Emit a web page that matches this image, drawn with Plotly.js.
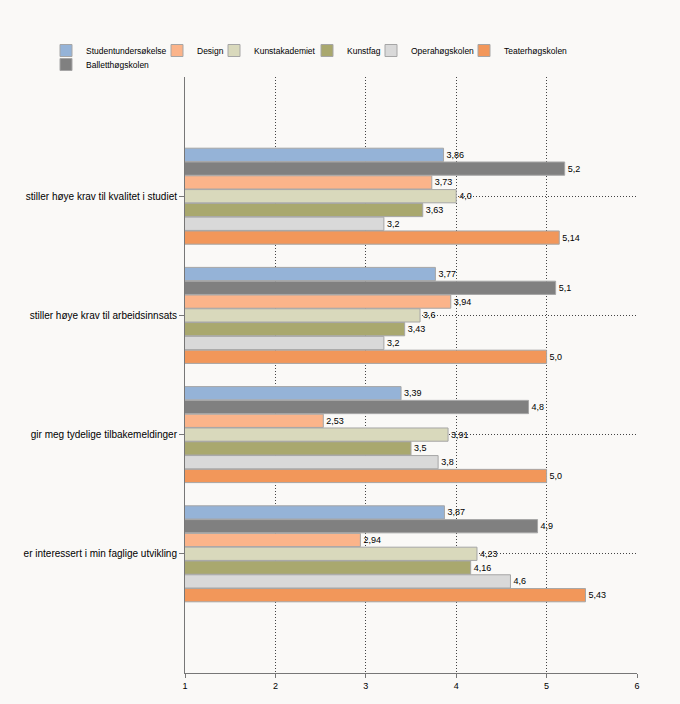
<!DOCTYPE html>
<html>
<head>
<meta charset="utf-8">
<script src="https://cdn.plot.ly/plotly-3.0.1.min.js"></script>
<style>
html,body{margin:0;padding:0;background:#faf9f7;}
#chart{width:680px;height:704px;}
</style>
</head>
<body>
<div id="chart"></div>
<script>
const categories = [
  "stiller høye krav til kvalitet i studiet",
  "stiller høye krav til arbeidsinnsats",
  "gir meg tydelige tilbakemeldinger",
  "er interessert i min faglige utvikling"
];
const seriesNames = ["Studentundersøkelse","Balletthøgskolen","Design","Kunstakademiet","Kunstfag","Operahøgskolen","Teaterhøgskolen"];
const studentundersokelse = [3.86, 3.77, 3.39, 3.87];
const balletthogskolen   = [5.2, 5.1, 4.8, 4.9];
const design             = [3.73, 3.94, 2.53, 2.94];
const kunstakademiet     = [4.0, 3.6, 3.91, 4.23];
const kunstfag           = [3.63, 3.43, 3.5, 4.16];
const operahogskolen     = [3.2, 3.2, 3.8, 4.6];
const teaterhogskolen    = [5.14, 5.0, 5.0, 5.43];
const xTicks = [1, 2, 3, 4, 5, 6];

const seriesValues = [studentundersokelse, balletthogskolen, design, kunstakademiet, kunstfag, operahogskolen, teaterhogskolen];
const colors = ["#95b3d7","#808080","#fbb48a","#d9d9bc","#a9a86e","#d9d9d9","#f2975a"];

// legend entry placement (px from left, row index) for each series
const legendLeftPx = [62, 62, 173, 230, 323, 387, 480];
const legendRow    = [0, 1, 0, 0, 0, 0, 0];

function fmt(v){ return v.toFixed(2).replace(/0$/,'').replace('.', ','); }

const FONT = 'Liberation Sans, Arial, sans-serif';
const W = 680, H = 704, ML = 185, MR = 43, MT = 77, MB = 31;
const PW = W - ML - MR, PH = H - MT - MB;

const traces = seriesNames.map((name, i) => ({
  type: 'bar',
  orientation: 'h',
  name: name,
  y: categories,
  x: seriesValues[i],
  text: seriesValues[i].map(fmt),
  textposition: 'outside',
  constraintext: 'none',
  cliponaxis: false,
  textfont: {family: FONT, size: 9, color: '#000'},
  legend: i === 0 ? 'legend' : 'legend' + (i + 1),
  marker: {color: colors[i], line: {color: '#a6a6a6', width: 1}},
  hoverinfo: 'x+name'
}));

const layout = {
  width: W, height: H,
  paper_bgcolor: '#faf9f7', plot_bgcolor: '#faf9f7',
  font: {family: FONT, size: 10, color: '#000'},
  margin: {l: ML, r: MR, t: MT, b: MB, pad: 0},
  barmode: 'group',
  bargap: 0.19,
  bargroupgap: 0.04,
  showlegend: true,
  xaxis: {
    range: [1, 6], tickvals: xTicks, ticktext: xTicks.map(String),
    showgrid: true, gridcolor: '#444', griddash: '1px,2px', gridwidth: 1,
    zeroline: false, showline: true, linecolor: '#777', linewidth: 1,
    ticks: 'outside', ticklen: 4, tickcolor: '#777',
    tickfont: {family: FONT, size: 9}, mirror: false
  },
  yaxis: {
    type: 'category', range: [4, -1],
    showgrid: true, gridcolor: '#444', griddash: '1px,2px', gridwidth: 1,
    zeroline: false, showline: true, linecolor: '#777', linewidth: 1,
    ticks: 'outside', ticklen: 5, tickcolor: '#777',
    tickfont: {family: FONT, size: 10}
  }
};

seriesNames.forEach((name, i) => {
  const key = i === 0 ? 'legend' : 'legend' + (i + 1);
  const topPx = legendRow[i] === 0 ? 36 : 50;
  layout[key] = {
    orientation: 'h', xanchor: 'left', yanchor: 'top',
    x: (legendLeftPx[i] - 16 - ML) / PW,
    y: 1 + (MT - topPx) / PH,
    font: {family: FONT, size: 8.5, color: '#000'},
    bgcolor: 'rgba(0,0,0,0)', itemwidth: 30
  };
});

Plotly.newPlot('chart', traces, layout, {displayModeBar: false, staticPlot: true});
</script>
</body>
</html>
